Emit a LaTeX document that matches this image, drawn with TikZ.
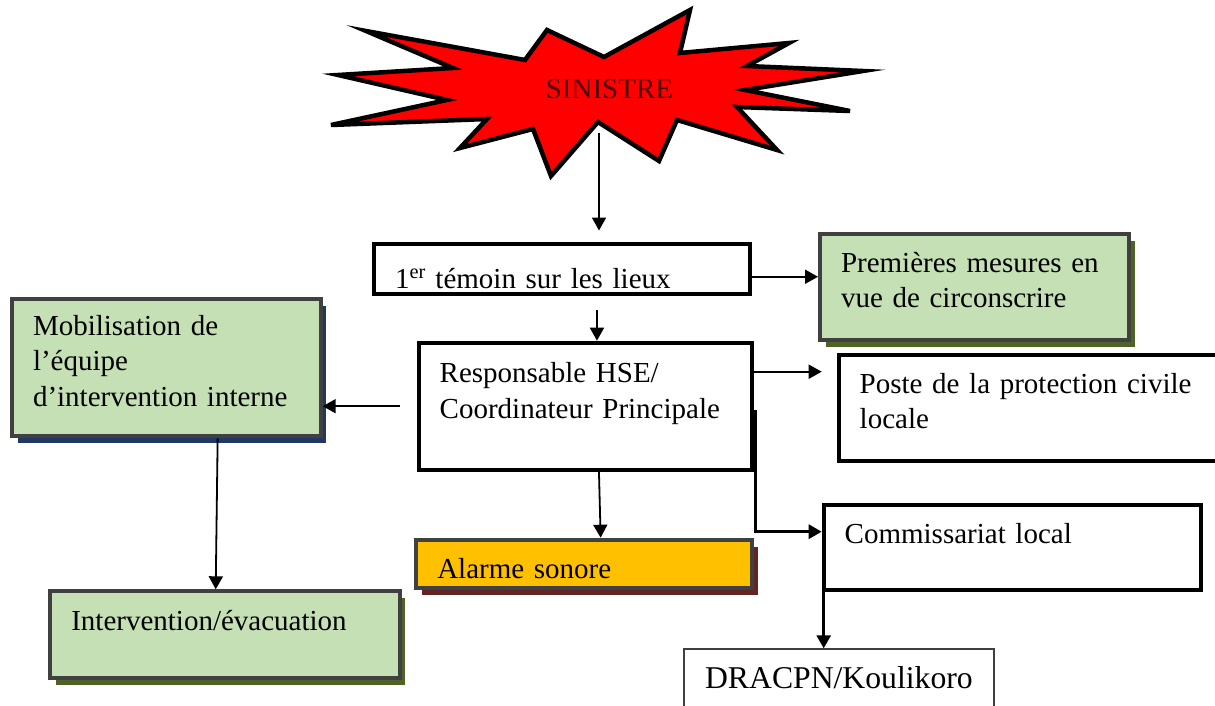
\documentclass[tikz,border=0pt]{standalone}
\usepackage{fontspec}
\setmainfont{Liberation Serif}
\usepackage{xcolor}
\usetikzlibrary{positioning, arrows.meta, shadows}
\definecolor{boxgreen}{HTML}{C5E0B4}
\definecolor{boxgray}{HTML}{404040}
\definecolor{olivedark}{HTML}{4F6228}
\definecolor{navydark}{HTML}{1F3864}
\definecolor{reddark}{HTML}{632523}
\definecolor{alarmorange}{HTML}{FFC000}
\definecolor{sinistretext}{HTML}{4A0000}

\tikzset{
  boxtext/.style={font=\fontsize{29}{35.5}\selectfont, align=left, anchor=north west,
                  inner xsep=21pt, inner ysep=0pt},
  plainbox/.style={boxtext, draw=black, line width=4pt, fill=white},
  shadedbox/.style={boxtext, draw=boxgray, line width=4pt,
                    drop shadow={shadow xshift=5.5pt, shadow yshift=-7pt, fill=#1, opacity=1}},
  flowarrow/.style={-{Triangle[length=13pt, width=14pt]}, line width=1.8pt},
}

\begin{document}
\begin{tikzpicture}[x=1pt, y=-1pt]
  \useasboundingbox (0,0) rectangle (1215,706);

  % the burst
  \draw[fill=red, line width=4.5pt]
    (366,31) -- (525,60) -- (547,30) -- (604,57) -- (690,10) -- (680,53)
    -- (789,43) -- (747,66) -- (863,71) -- (745,90) -- (850,111) -- (737,107)
    -- (777,150) -- (677,120) -- (659,161) -- (598,122) -- (551,176) -- (533,129)
    -- (460,148) -- (487,119) -- (331,125) -- (447,100) -- (338,75) -- (453,68) -- cycle;
  \node[font=\fontsize{29}{35.5}\selectfont, text=sinistretext, anchor=base, inner sep=0pt]
    (sinistre) at (609.5,98.3) {SINISTRE};
  \coordinate (starfoot) at (599,133);

  % boxes
  \node[plainbox, text width=334pt, text height=44.5pt, text depth=6pt]
    (temoin) at (372,241.5) {1\textsuperscript{er} témoin sur les lieux};
  \node[shadedbox=olivedark, fill=boxgreen, text width=267pt, text height=38pt, text depth=68pt]
    (premieres) at (818,232) {Premières mesures en\\vue de circonscrire};
  \node[shadedbox=navydark, fill=boxgreen, text width=266.7pt, text height=35.7pt, text depth=101.3pt]
    (mobil) at (10,297.3) {Mobilisation de\\l’équipe\\d’intervention interne};
  \node[plainbox, text width=291.3pt, text height=39.8pt, text depth=87.2pt]
    (resp) at (416.7,340.7) {Responsable HSE/\\Coordinateur Principale};
  \node[plainbox, text width=339.3pt, text height=38pt, text depth=67.4pt]
    (poste) at (836.7,353.3) {Poste de la protection civile\\locale};
  \node[plainbox, text width=335.6pt, text height=38pt, text depth=46.4pt]
    (commis) at (821.7,503.3) {Commissariat local};
  \node[shadedbox=reddark, fill=alarmorange, text width=293.7pt, text height=38.6pt, text depth=9.7pt]
    (alarme) at (414.3,537.7) {Alarme sonore};
  \node[shadedbox=olivedark, fill=boxgreen, text width=307.4pt, text height=38.7pt, text depth=48pt]
    (interv) at (48.3,589.3) {Intervention/évacuation};
  \node[boxtext, draw=boxgray, line width=1.3pt, align=center, inner xsep=10pt,
        font=\fontsize{31.7}{38}\selectfont,
        text width=290pt, text height=39.3pt, text depth=31pt]
    (dracpn) at (683.3,648.3) {DRACPN/Koulikoro};

  % connectors
  \draw[flowarrow, shorten >=11pt] (starfoot) -- (starfoot |- temoin.north);
  \draw[flowarrow] ([yshift=-8pt]temoin.east) -- ([yshift=-8pt]temoin.east -| premieres.west);
  \draw[flowarrow, shorten <=14pt] ([xshift=35pt]temoin.south) -- ([xshift=11.6pt]resp.north);
  \draw[flowarrow, shorten <=17pt] (resp.west) -- (resp.west -| mobil.east);
  \draw[flowarrow, shorten >=15pt] ([yshift=34.5pt]resp.east) -- ([yshift=34.5pt]resp.east -| poste.west);
  \draw[flowarrow, line width=3pt] ([xshift=1pt, yshift=-3.8pt]resp.east) |- ([yshift=15.8pt]commis.west);
  \draw[flowarrow] ([xshift=13.6pt]resp.south) -- ([xshift=16.5pt]alarme.north);
  \draw[flowarrow] ([xshift=51.3pt]mobil.south) -- ([xshift=-9.3pt]interv.north);
  \draw[flowarrow, line width=3pt] ([xshift=2pt]commis.south west) -- ([xshift=2pt]commis.south west |- dracpn.north);
\end{tikzpicture}
\end{document}
